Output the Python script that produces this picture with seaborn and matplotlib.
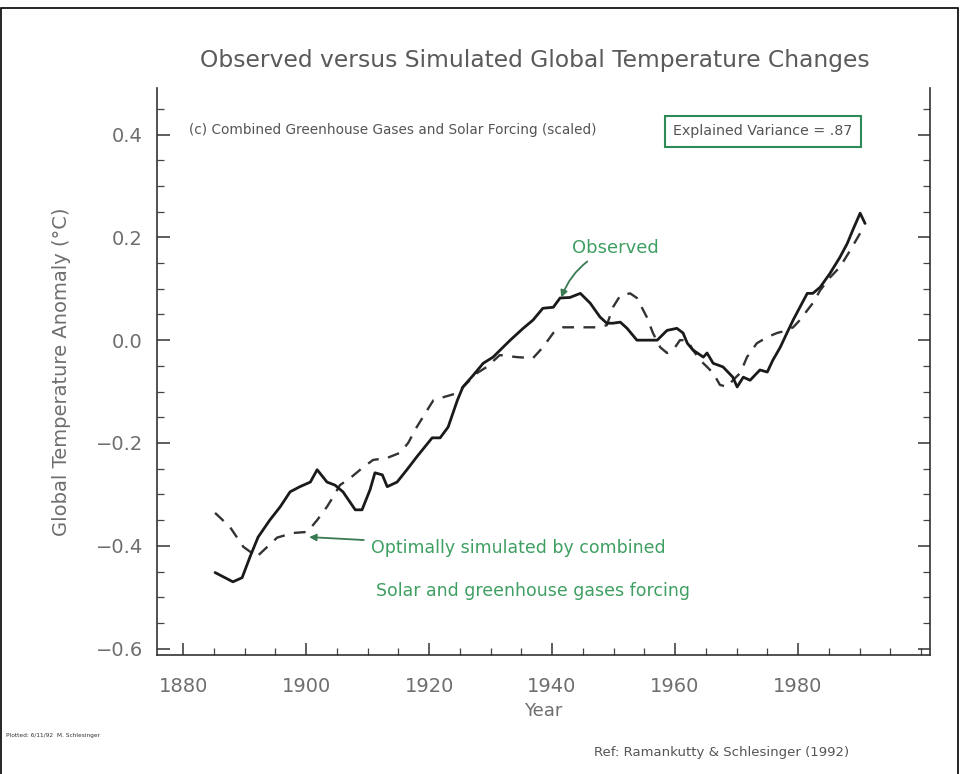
import matplotlib
matplotlib.use("Agg")
import matplotlib.pyplot as plt
from matplotlib.patches import Rectangle
from matplotlib.ticker import MultipleLocator
import seaborn as sns
import pandas as pd

# ---- data ----
obs_year = [1885.2, 1888.1, 1889.6, 1890.9, 1892.2, 1894.1, 1895.8, 1897.4, 1899.0, 1900.7,
            1901.8, 1903.4, 1904.7, 1906.0, 1908.0, 1909.1, 1910.4, 1911.2, 1912.4, 1913.2,
            1914.8, 1916.4, 1918.0, 1920.5, 1921.8, 1923.1, 1924.6, 1925.5, 1927.2, 1928.8,
            1930.4, 1933.2, 1935.3, 1936.9, 1938.5, 1940.2, 1941.3, 1942.9, 1944.6, 1946.2,
            1947.8, 1948.9, 1949.9, 1951.1, 1952.2, 1953.8, 1955.4, 1957.1, 1958.7, 1960.3,
            1961.3, 1962.0, 1962.9, 1964.6, 1965.2, 1966.2, 1967.8, 1969.4, 1970.1, 1971.1,
            1972.2, 1973.8, 1975.0, 1975.9, 1977.1, 1978.2, 1979.2, 1980.3, 1981.5, 1982.4,
            1983.6, 1985.2, 1986.8, 1988.0, 1988.9, 1990.1, 1990.9]
obs_val = [-0.452, -0.470, -0.462, -0.421, -0.383, -0.350, -0.324, -0.295, -0.285, -0.276,
           -0.252, -0.276, -0.282, -0.295, -0.330, -0.330, -0.291, -0.258, -0.262, -0.285,
           -0.276, -0.252, -0.227, -0.190, -0.190, -0.169, -0.117, -0.091, -0.068, -0.045,
           -0.033, 0.000, 0.023, 0.039, 0.062, 0.064, 0.082, 0.083, 0.091, 0.072,
           0.045, 0.033, 0.033, 0.035, 0.023, 0.000, 0.000, 0.000, 0.019, 0.023,
           0.014, -0.006, -0.019, -0.033, -0.025, -0.045, -0.052, -0.072, -0.091, -0.072,
           -0.078, -0.058, -0.062, -0.039, -0.014, 0.014, 0.039, 0.064, 0.091, 0.091,
           0.103, 0.130, 0.161, 0.188, 0.214, 0.247, 0.227]

sim_year = [1885.2, 1887.6, 1889.8, 1892.0, 1893.7, 1895.3, 1897.9, 1900.2, 1901.8, 1903.4,
            1904.4, 1905.5, 1907.2, 1909.3, 1910.9, 1913.2, 1915.3, 1916.6, 1918.0, 1919.7,
            1920.7, 1922.3, 1924.6, 1926.2, 1927.8, 1929.4, 1931.5, 1934.3, 1936.9, 1938.5,
            1940.2, 1941.8, 1944.6, 1947.3, 1948.9, 1949.9, 1951.1, 1952.7, 1953.8, 1955.4,
            1956.4, 1957.6, 1958.7, 1959.7, 1960.8, 1962.0, 1962.9, 1964.1, 1965.2, 1966.2,
            1967.3, 1968.5, 1969.4, 1970.6, 1971.7, 1973.3, 1975.0, 1976.6, 1978.2, 1979.2,
            1980.3, 1981.5, 1982.4, 1983.6, 1985.2, 1986.8, 1988.5, 1990.1]
sim_val = [-0.336, -0.363, -0.402, -0.421, -0.402, -0.384, -0.375, -0.373, -0.350, -0.324,
           -0.305, -0.282, -0.268, -0.247, -0.233, -0.229, -0.219, -0.200, -0.169, -0.136,
           -0.117, -0.111, -0.103, -0.083, -0.064, -0.052, -0.029, -0.033, -0.035, -0.014,
           0.014, 0.025, 0.025, 0.025, 0.029, 0.064, 0.087, 0.091, 0.082, 0.045,
           0.014, -0.014, -0.025, -0.019, 0.000, 0.000, -0.019, -0.039, -0.052, -0.064,
           -0.087, -0.091, -0.078, -0.064, -0.033, -0.006, 0.006, 0.014, 0.019, 0.025,
           0.039, 0.058, 0.072, 0.097, 0.122, 0.142, 0.175, 0.208]

x_ticks = [1880, 1900, 1920, 1940, 1960, 1980]
y_ticks = [-0.6, -0.4, -0.2, 0.0, 0.2, 0.4]

title = "Observed versus Simulated Global Temperature Changes"
subtitle = "(c) Combined Greenhouse Gases and Solar Forcing (scaled)"
box_text = "Explained Variance = .87"

obs_df = pd.DataFrame({"Year": obs_year, "Anomaly": obs_val})
sim_df = pd.DataFrame({"Year": sim_year, "Anomaly": sim_val})

sns.set_theme(style="white")
plt.rcParams['font.family'] = ['DejaVu Sans']

fig = plt.figure(figsize=(9.61, 7.74), dpi=100)
ax = fig.add_axes([0.163, 0.154, 0.805, 0.732])

label_gray = "#6e6e6e"
green = "#3f9f62"

sns.lineplot(data=sim_df, x="Year", y="Anomaly", ax=ax, color="#333333",
             linewidth=1.7, linestyle=(0, (5, 4)), sort=False, estimator=None)
sns.lineplot(data=obs_df, x="Year", y="Anomaly", ax=ax, color="#1a1a1a",
             linewidth=2.0, sort=False, estimator=None)

ax.set_xlim(1875.7, 2001.5)
ax.set_ylim(-0.612, 0.49)
ax.set_xticks(x_ticks)
ax.set_xticklabels([str(v) for v in x_ticks])
ax.set_yticks(y_ticks)
ax.set_yticklabels([f"{v:.1f}".replace("-", "\u2212") for v in y_ticks])
ax.xaxis.set_minor_locator(MultipleLocator(5))
ax.yaxis.set_minor_locator(MultipleLocator(0.05))

for side in ["left", "bottom", "right"]:
    ax.spines[side].set_visible(True)
    ax.spines[side].set_color("#333333")
    ax.spines[side].set_linewidth(1.2)
ax.spines["top"].set_visible(False)

ax.tick_params(axis="both", which="major", direction="in", length=9, width=1.1,
               colors="#333333", labelcolor=label_gray, labelsize=14)
ax.tick_params(axis="both", which="minor", direction="in", length=5, width=0.9,
               colors="#444444")
ax.tick_params(axis="y", which="both", left=True, right=True, labelright=False)
ax.tick_params(axis="x", which="both", bottom=True, top=False, pad=16)
ax.tick_params(axis="y", which="major", pad=10)

ax.set_xlabel("Year", fontsize=13, color=label_gray, labelpad=4)
ax.set_ylabel("Global Temperature Anomaly (\u00b0C)", fontsize=14, color=label_gray, labelpad=18)

fig.text(0.557, 0.922, title, ha="center", va="center", fontsize=16.8, color="#5a5a5a")

ax.text(1881.0, 0.408, subtitle, ha="left", va="center", fontsize=9.8, color="#555555")
ax.text(1974.3, 0.406, box_text, ha="center", va="center", fontsize=10.3, color="#555555",
        bbox=dict(boxstyle="square,pad=0.6", facecolor="white", edgecolor="#2e8b57", linewidth=1.5))

ax.annotate("Observed", xy=(1941.5, 0.083), xytext=(1943.3, 0.18),
            fontsize=13, color=green, ha="left", va="center",
            arrowprops=dict(arrowstyle="-|>", color="#3a7a52", lw=1.3,
                            connectionstyle="arc3,rad=0.25", shrinkA=2, shrinkB=0,
                            mutation_scale=10))
ax.annotate("Optimally simulated by combined", xy=(1900.5, -0.383), xytext=(1910.6, -0.405),
            fontsize=12.5, color=green, ha="left", va="center",
            arrowprops=dict(arrowstyle="-|>", color="#3a7a52", lw=1.3, shrinkA=3, shrinkB=0,
                            mutation_scale=10))
ax.text(1911.3, -0.487, "Solar and greenhouse gases forcing", fontsize=12.5, color=green,
        ha="left", va="center")

fig.text(0.006, 0.05, "Plotted: 6/11/92  M. Schlesinger", fontsize=4.2, color="#333333",
         ha="left", va="center")
fig.text(0.618, 0.028, "Ref: Ramankutty & Schlesinger (1992)", fontsize=9.5, color="#555555",
         ha="left", va="center")

fig.patches.append(Rectangle((0.001, -0.01), 0.996, 1.0, transform=fig.transFigure,
                             fill=False, edgecolor="black", linewidth=1.2))

fig.savefig("out.png", dpi=100)
